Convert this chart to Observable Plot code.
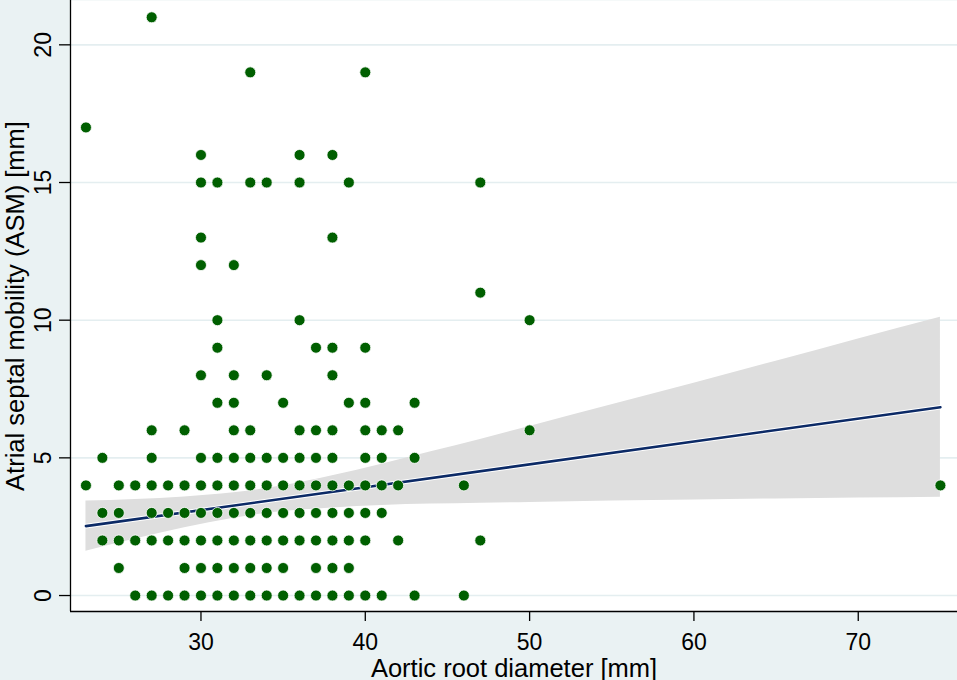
<!DOCTYPE html>
<html>
<head>
<meta charset="utf-8">
<script src="https://cdn.jsdelivr.net/npm/d3@7"></script>
<script src="https://cdn.jsdelivr.net/npm/@observablehq/plot@0.6"></script>
<style>
  html, body { margin: 0; padding: 0; background: #EAF2F3; }
  #chart { width: 957px; height: 680px; }
</style>
</head>
<body>
<div id="chart"></div>
<script>
// Observed points: aortic root diameter (mm) grouped by ASM value (mm)
const asmLevels = [0, 1, 2, 3, 4, 5, 6, 7, 8, 9, 10, 11, 12, 13, 15, 16, 17, 19, 21];
const aorticAtLevel = [
  [26, 27, 28, 29, 30, 31, 32, 33, 34, 35, 36, 37, 38, 39, 40, 41, 43, 46],
  [25, 29, 30, 31, 32, 33, 34, 35, 37, 38, 39],
  [24, 25, 26, 27, 28, 29, 30, 31, 32, 33, 34, 35, 36, 37, 38, 39, 40, 42, 47],
  [24, 25, 27, 28, 29, 30, 31, 32, 33, 34, 35, 36, 37, 38, 39, 40, 41],
  [23, 25, 26, 27, 28, 29, 30, 31, 32, 33, 34, 35, 36, 37, 38, 39, 40, 41, 42, 46, 75],
  [24, 27, 30, 31, 32, 33, 34, 35, 36, 37, 38, 40, 41, 43],
  [27, 29, 32, 33, 36, 37, 38, 40, 41, 42, 50],
  [31, 32, 35, 39, 40, 43],
  [30, 32, 34, 38],
  [31, 37, 38, 40],
  [31, 36, 50],
  [47],
  [30, 32],
  [30, 38],
  [30, 31, 33, 34, 36, 39, 47],
  [30, 36, 38],
  [23],
  [33, 40],
  [27]
];

// Fitted line
const fitX = [23, 75];
const fitY = [2.52, 6.84];

// 95% CI band
const bandX  = [23, 26, 29, 32, 35, 38, 41, 44, 47, 50, 55, 60, 65, 70, 75];
const bandLo = [1.61, 2.05, 2.46, 2.81, 3.05, 3.18, 3.27, 3.32, 3.35, 3.38, 3.43, 3.47, 3.51, 3.54, 3.57];
const bandHi = [3.43, 3.49, 3.58, 3.73, 3.99, 4.35, 4.77, 5.22, 5.67, 6.14, 6.93, 7.71, 8.51, 9.32, 10.11];

// Axes
const xDomain = [22.06, 76.04];
const yDomain = [-0.58, 21.61];
const xTicks = [30, 40, 50, 60, 70];
const yTicks = [0, 5, 10, 15, 20];
const xTitle = "Aortic root diameter [mm]";
const yTitle = "Atrial septal mobility (ASM) [mm]";

const points = asmLevels.flatMap((yv, i) => aorticAtLevel[i].map(xv => ({x: xv, y: yv})));
const band = bandX.map((x, i) => ({x, lo: bandLo[i], hi: bandHi[i]}));
const fit = fitX.map((x, i) => ({x, y: fitY[i]}));

const chart = Plot.plot({
  width: 957,
  height: 680,
  marginLeft: 70,
  marginRight: 0,
  marginTop: 0,
  marginBottom: 69,
  style: {background: "#EAF2F3", fontFamily: "Liberation Sans, Arial, sans-serif", color: "#000"},
  x: {domain: xDomain, label: null},
  y: {domain: yDomain, label: null},
  marks: [
    Plot.frame({fill: "white", stroke: null}),
    Plot.gridY(yTicks, {stroke: "#E4EEF0", strokeOpacity: 1, strokeWidth: 1.6}),
    Plot.areaY(band, {x: "x", y1: "lo", y2: "hi", fill: "#dedede", curve: "monotone-x"}),
    Plot.line(fit, {x: "x", y: "y", stroke: "white", strokeWidth: 4.6}),
    Plot.line(fit, {x: "x", y: "y", stroke: "#0c2a66", strokeWidth: 2.6}),
    Plot.dot(points, {x: "x", y: "y", r: 5.5, fill: "#005f00", stroke: "white", strokeWidth: 0.8}),
    Plot.ruleX([xDomain[0]], {stroke: "#000", strokeWidth: 1.3}),
    Plot.ruleY([yDomain[0]], {stroke: "#000", strokeWidth: 1.3}),
    Plot.axisX({ticks: xTicks, tickSize: 10, tickPadding: 12, fontSize: 23, label: null, stroke: "#000", strokeWidth: 1.3}),
    Plot.axisY({ticks: yTicks, tickSize: 11, tickFormat: () => "", label: null, stroke: "#000", strokeWidth: 1.3}),
    Plot.text(yTicks, {y: d => d, text: d => String(d), frameAnchor: "left", dx: -20, rotate: -90,
      lineAnchor: "bottom", textAnchor: "middle", fontSize: 23, fill: "#000"}),
    Plot.text([yTitle], {text: d => d, frameAnchor: "left", dx: -47, rotate: -90,
      lineAnchor: "bottom", textAnchor: "middle", fontSize: 25.5, fill: "#000"}),
    Plot.text([xTitle], {text: d => d, frameAnchor: "bottom", dy: 65,
      lineAnchor: "bottom", textAnchor: "middle", fontSize: 25.5, fill: "#000"})
  ]
});
document.getElementById("chart").appendChild(chart);
</script>
</body>
</html>
